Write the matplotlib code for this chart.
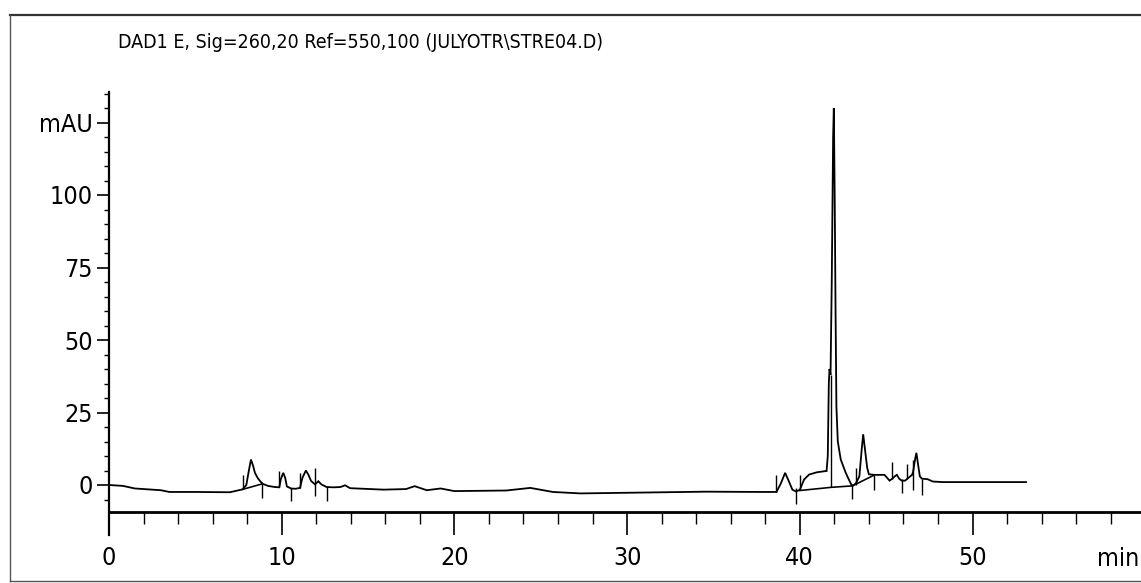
import matplotlib
matplotlib.use('Agg')
import matplotlib.pyplot as plt
from matplotlib.lines import Line2D
import numpy as np

plt.rcParams['font.family'] = ['DejaVu Sans']
plt.rcParams['font.stretch'] = 'condensed'

title = 'DAD1 E, Sig=260,20 Ref=550,100 (JULYOTR\\STRE04.D)'

# signal trace (time in min, absorbance in mAU)
sig_t = [0, 0.8, 1.5, 3.0, 3.5, 5.0, 7.0, 7.74, 7.95, 8.1, 8.22, 8.35, 8.45, 8.6, 8.74, 8.9,
         9.2, 9.6, 9.86, 9.95, 10.09, 10.2, 10.3, 10.54, 10.8, 11.06, 11.2, 11.4, 11.55, 11.7,
         11.93, 12.12, 12.3, 12.6, 13.0, 13.4, 13.67, 13.96, 15.9, 17.2, 17.7, 18.4, 19.2, 20.0,
         23.0, 24.4, 25.7, 27.3, 34.6, 37.7, 38.65, 38.9, 39.15, 39.35, 39.57, 39.77, 40.0,
         40.25, 40.54, 41.0, 41.5, 41.55, 41.62, 41.68, 41.72, 41.78, 41.85, 41.93, 41.97,
         42.02, 42.07, 42.12, 42.2, 42.37, 42.66, 42.95, 43.05, 43.24, 43.45, 43.58, 43.67,
         43.78, 43.9, 44.0, 44.3, 44.9, 45.2, 45.36, 45.5, 45.62, 45.75, 45.9, 46.1, 46.23,
         46.4, 46.5, 46.56, 46.68, 46.75, 46.85, 46.95, 47.06, 47.4, 47.7, 48.3, 53.1]
sig_y = [0, -0.3, -1.2, -1.8, -2.4, -2.4, -2.5, -1.5, 0, 5, 8.8, 6.5, 4.2, 2.5, 1.4, 0.4,
         -0.3, -0.7, -0.8, 2, 4.2, 2.5, -0.5, -1.2, -1.3, -1.0, 2.5, 5.0, 3.5, 1.4,
         0.2, 1.3, 0.2, -0.7, -0.8, -0.7, -0.1, -1.1, -1.6, -1.4, -0.4, -1.8, -1.2, -2.1,
         -1.9, -1.0, -2.4, -2.9, -2.3, -2.4, -2.4, 0.5, 4.2, 1.5, -1.6, -2.2, -1.7,
         1.9, 3.6, 4.4, 4.8, 4.8, 10, 35, 40, 38, 70, 120, 130,
         100, 60, 27, 15, 8.8, 4.2, 0.5, -0.3, 0.5, 3, 12, 17.5,
         12, 6, 3.7, 3.5, 3.5, 1.5, 2.2, 3.0, 3.5, 2.2, 1.5, 1.5, 2.2,
         3.0, 3.5, 4.5, 9, 11.1, 7, 3, 2.2, 2.0, 1.2, 1.0, 1.0]

# integrator baselines drawn under peaks
base_segs = [([7.74, 8.88], [-1.5, 0.4]),
             ([40.0, 41.83, 43.05], [-1.9, -0.8, -0.3]),
             ([43.05, 44.3], [-0.3, 3.4])]

# peak start/stop tick marks: time, lower end, upper end
mark_t = [7.74, 8.88, 9.86, 10.54, 11.06, 11.93, 12.6, 38.65, 39.77, 40.0, 41.83,
          43.05, 43.24, 44.3, 45.36, 45.9, 46.23, 46.56, 47.06]
mark_lo = [-1.5, -4.4, -0.8, -5.6, -1.0, -3.9, -5.6, -2.4, -6.4, -1.8, -0.8,
           -4.7, -0.1, -1.8, 2.2, -2.9, 2.2, -1.8, -3.5]
mark_hi = [3.6, 0.4, 4.8, -1.0, 4.2, 5.7, -0.4, 3.4, -1.2, 3.4, 38,
           0.5, 5.7, 3.4, 8.0, 2.2, 7.4, 8.6, 2.2]

ytick_vals = [0, 25, 50, 75, 100, 125]
ytick_labels = ['0', '25', '50', '75', '100', 'mAU']
xtick_vals = [0, 10, 20, 30, 40, 50]

W, H = 1141, 583
fig = plt.figure(figsize=(W / 100, H / 100), dpi=100)
x0, x1 = 109, W
ytop, ybot = 92, 535
ax = fig.add_axes([x0 / W, 1 - ybot / H, (x1 - x0) / W, (ybot - ytop) / H])
ax.set_xlim(0, (x1 - x0) / 17.27)
ax.set_ylim((485 - ybot) / 2.9, (485 - ytop) / 2.9)

lw = 1.3
ax.plot(sig_t, sig_y, color='black', lw=lw, solid_joinstyle='miter')
for bt, by in base_segs:
    ax.plot(bt, by, color='black', lw=lw * 0.9)
ax.vlines(mark_t, mark_lo, mark_hi, color='black', lw=1.0)

for s in ['top', 'right']:
    ax.spines[s].set_visible(False)
ax.spines['left'].set_linewidth(1.6)
ax.spines['bottom'].set_position(('data', -9.3))
ax.spines['bottom'].set_linewidth(2.0)

ax.set_yticks(ytick_vals)
ax.set_yticklabels(ytick_labels)
ax.set_yticks(np.arange(-5, 136, 5), minor=True)
ax.set_xticks(xtick_vals)
ax.set_xticklabels([str(v) for v in xtick_vals])
ax.set_xticks(np.arange(2, 60, 2), minor=True)

ax.tick_params(axis='y', which='major', length=8.5, width=1.2, pad=3, labelsize=18)
ax.tick_params(axis='y', which='minor', length=3.6, width=1.0)
ax.tick_params(axis='x', which='major', length=16.5, width=1.2, pad=8, labelsize=18)
ax.tick_params(axis='x', which='minor', length=8.6, width=1.0)

ax.text(59.65, -21.5, 'min', fontsize=18, ha='right', va='top', clip_on=False)
fig.text(118 / W, 1 - 43 / H, title, fontsize=14, ha='left', va='center')

# page frame of the scanned report
fig.add_artist(Line2D([10 / W, 1], [1 - 15 / H] * 2, color='#333333', lw=1.6))
fig.add_artist(Line2D([10 / W] * 2, [1 - 15 / H, 1 - 581 / H], color='#555555', lw=1.0))
fig.add_artist(Line2D([10 / W, 1], [1 - 581 / H] * 2, color='#555555', lw=1.0))

fig.savefig('out.png', dpi=100, facecolor='white')
